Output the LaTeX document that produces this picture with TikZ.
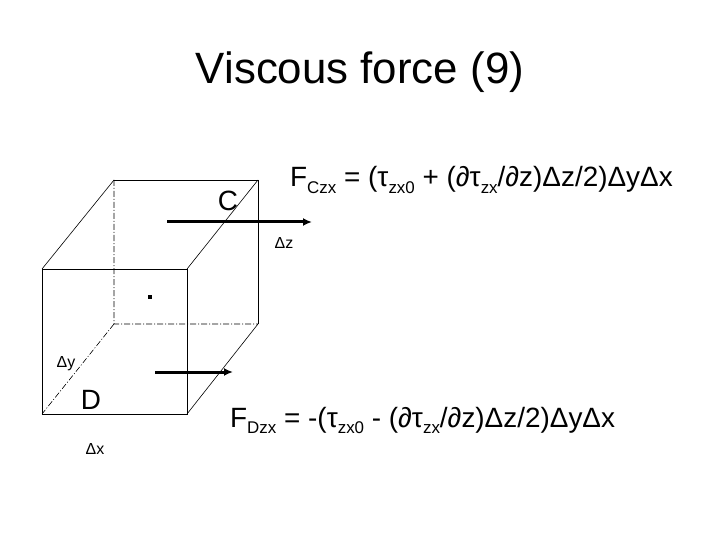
\documentclass[tikz,border=0pt]{standalone}
\usepackage{fontspec}
\setmainfont{Liberation Sans}
\begin{document}
\begin{tikzpicture}[x=1bp,y=-1bp,
  edge/.style={line width=0.6bp},
  hidden/.style={line width=0.6bp,dash pattern=on 6bp off 2bp on 1bp off 2bp},
  force/.style={line width=3bp,-{Latex[length=9bp,width=8bp]}},
  lbl/.style={inner sep=0pt,anchor=base west}]
\usetikzlibrary{arrows.meta}
\useasboundingbox (0,0) rectangle (720,540);
\node[inner sep=0pt,font=\fontsize{44}{48}\selectfont] (title) at (360,72) {Viscous force (9)};
% cube
\coordinate (f1) at (42,269); \coordinate (f2) at (187,269);
\coordinate (f3) at (187,414); \coordinate (f4) at (42,414);
\coordinate (b1) at (114,180); \coordinate (b2) at (258,180);
\coordinate (b3) at (258,324); \coordinate (b4) at (114,324);
\draw[edge] (f1)--(f2)--(f3)--(f4)--cycle;
\draw[edge] (b1)--(b2)--(b3);
\draw[edge] (f1)--(b1) (f2)--(b2) (f3)--(b3);
\draw[hidden] (b1)--(b4)--(b3) (b4)--(f4);
\node[fill,minimum size=4bp,inner sep=0pt] (dot) at (150,297) {};
\node[font=\fontsize{28}{30}\selectfont] (C) at (228,201) {C};
\node[font=\fontsize{28}{30}\selectfont] (D) at (91,400) {D};
\node[font=\fontsize{16}{18}\selectfont] (dz) at (284,243) {Δz};
\node[font=\fontsize{16}{18}\selectfont] (dy) at (66,364) {Δy};
\node[font=\fontsize{16}{18}\selectfont] (dx) at (95,449) {Δx};
\coordinate (c0) at (167,222); \coordinate (c1) at (312,222);
\coordinate (d0) at (155,372); \coordinate (d1) at (233,372);
\draw[force] (c0)--(c1);
\draw[force] (d0)--(d1);
\node[lbl,font=\fontsize{28}{30}\selectfont] (fc) at (290,187) {F\raisebox{-0.25em}{\fontsize{17}{18}\selectfont Czx} = (τ\raisebox{-0.25em}{\fontsize{17}{18}\selectfont zx0} + (∂τ\raisebox{-0.25em}{\fontsize{17}{18}\selectfont zx}/∂z)Δz/2)ΔyΔx};
\node[lbl,font=\fontsize{28}{30}\selectfont] (fd) at (230,427) {F\raisebox{-0.25em}{\fontsize{17}{18}\selectfont Dzx} = -(τ\raisebox{-0.25em}{\fontsize{17}{18}\selectfont zx0} - (∂τ\raisebox{-0.25em}{\fontsize{17}{18}\selectfont zx}/∂z)Δz/2)ΔyΔx};
\end{tikzpicture}
\end{document}
